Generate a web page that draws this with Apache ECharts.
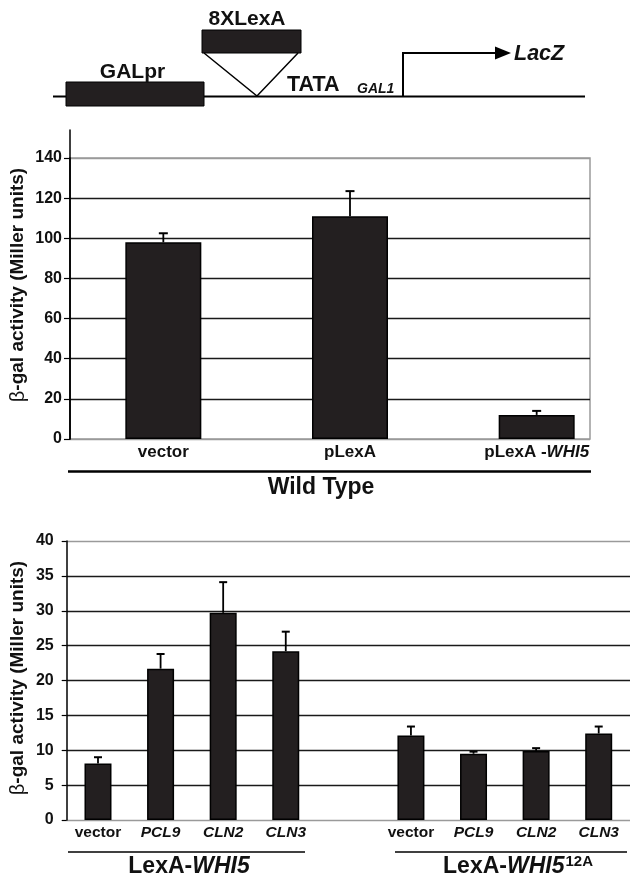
<!DOCTYPE html>
<html><head><meta charset="utf-8">
<script src="https://cdn.jsdelivr.net/npm/echarts@6/dist/echarts.min.js"></script>
<style>html,body{margin:0;padding:0;background:#fff}#c{width:630px;height:879px}</style>
</head><body><div id="c"></div>
<script>
// ---- data ----
const topCategories = ['vector', 'pLexA', 'pLexA -WHI5'];
const topValues = [98, 111, 12];
const topErrors = [4.5, 12.5, 2];
const topTicks = [0, 20, 40, 60, 80, 100, 120, 140];

const bottomCategories = ['vector', 'PCL9', 'CLN2', 'CLN3', '', 'vector', 'PCL9', 'CLN2', 'CLN3'];
const bottomValues = [8.1, 21.7, 29.7, 24.2, null, 12.1, 9.5, 9.9, 12.4];
const bottomErrors = [0.9, 2.1, 4.4, 2.8, null, 1.3, 0.3, 0.4, 1.0];
const bottomTicks = [0, 5, 10, 15, 20, 25, 30, 35, 40];

const FONT = '"Liberation Sans", Arial, Helvetica, sans-serif';
const BAR = '#231f20';

function errRender(capHalf) {
  return function (params, api) {
    const x = api.value(0), lo = api.value(1), hi = api.value(2);
    const p1 = api.coord([x, lo]), p2 = api.coord([x, hi]);
    return {type: 'group', children: [
      {type: 'line', shape: {x1: p1[0], y1: p1[1], x2: p2[0], y2: p2[1]}, style: {stroke: '#000', lineWidth: 1.8}},
      {type: 'line', shape: {x1: p2[0] - capHalf, y1: p2[1], x2: p2[0] + capHalf, y2: p2[1]}, style: {stroke: '#000', lineWidth: 2}}
    ]};
  };
}
function errData(vals, errs) {
  const out = [];
  vals.forEach((v, i) => { if (v != null) out.push([i, v, v + errs[i]]); });
  return out;
}
function lineColors(n) {
  const a = [];
  for (let i = 0; i < n; i++) a.push(i === 0 || i === n - 1 ? '#9a9a9a' : '#1a1a1a');
  return a;
}

const chart = echarts.init(document.getElementById('c'), null, {renderer: 'canvas'});

const yTitle = (x, y) => ({
  type: 'text', x: x, y: y, rotation: Math.PI / 2,
  style: {
    text: '{g|β}{b|-gal activity (Miller units)}',
    align: 'center', verticalAlign: 'middle',
    rich: {
      g: {fontFamily: FONT, fontSize: 20, fontWeight: 'normal', fill: '#111'},
      b: {fontFamily: FONT, fontSize: 19, fontWeight: 'bold', fill: '#111'}
    }
  }
});

const option = {
  backgroundColor: '#fff',
  animation: false,
  grid: [
    {left: 70, top: 158, width: 520, height: 281, show: true, borderColor: '#9a9a9a', borderWidth: 1.5, backgroundColor: 'transparent'},
    {left: 70, top: 158, width: 563, height: 281},
    {left: 70, top: 130, width: 520, height: 309},
    {left: 66.7, top: 541, width: 565.6, height: 279}
  ],
  xAxis: [
    {gridIndex: 0, type: 'value', min: 0, max: 1, show: false},
    {gridIndex: 1, type: 'category', data: topCategories,
      axisLine: {show: false}, axisTick: {show: false},
      axisLabel: {interval: 0, margin: 5,
        formatter: v => v.indexOf('WHI5') >= 0 ? '{b|pLexA -}{i|WHI5}' : '{b|' + v + '}',
        rich: {
          b: {fontFamily: FONT, fontSize: 17, fontWeight: 'bold', color: '#111'},
          i: {fontFamily: FONT, fontSize: 17, fontWeight: 'bold', fontStyle: 'italic', color: '#111'}
        }}},
    {gridIndex: 2, type: 'value', min: 0, max: 1, show: false},
    {gridIndex: 3, type: 'category', data: bottomCategories,
      axisLine: {show: false}, axisTick: {show: false},
      axisLabel: {interval: 0, margin: 5,
        formatter: v => v === 'vector' ? '{b|vector}' : (v ? '{i|' + v + '}' : ''),
        rich: {
          b: {fontFamily: FONT, fontSize: 15.5, fontWeight: 'bold', color: '#111'},
          i: {fontFamily: FONT, fontSize: 15.5, fontWeight: 'bold', fontStyle: 'italic', color: '#111'}
        }}}
  ],
  yAxis: [
    {gridIndex: 0, type: 'value', min: topTicks[0], max: topTicks[topTicks.length - 1], interval: topTicks[1] - topTicks[0],
      axisLine: {show: true, lineStyle: {color: '#000', width: 1.5}},
      axisTick: {show: true, length: 6, lineStyle: {color: '#000', width: 1.2}},
      axisLabel: {margin: 8, fontFamily: FONT, fontSize: 16, fontWeight: 'bold', color: '#111'},
      splitLine: {show: true, lineStyle: {color: lineColors(topTicks.length), width: 1.3}}},
    {gridIndex: 1, type: 'value', min: topTicks[0], max: topTicks[topTicks.length - 1], show: false, splitLine: {show: false}},
    {gridIndex: 2, type: 'value', min: 0, max: 1,
      axisLine: {show: true, lineStyle: {color: '#000', width: 1.5}},
      axisTick: {show: false}, axisLabel: {show: false}, splitLine: {show: false}},
    {gridIndex: 3, type: 'value', min: bottomTicks[0], max: bottomTicks[bottomTicks.length - 1], interval: bottomTicks[1] - bottomTicks[0],
      axisLine: {show: true, lineStyle: {color: '#000', width: 1.5}},
      axisTick: {show: true, length: 5, lineStyle: {color: '#000', width: 1.2}},
      axisLabel: {margin: 13, fontFamily: FONT, fontSize: 16, fontWeight: 'bold', color: '#111'},
      splitLine: {show: true, lineStyle: {color: lineColors(bottomTicks.length), width: 1.3}}}
  ],
  series: [
    {type: 'bar', xAxisIndex: 1, yAxisIndex: 1, data: topValues, barWidth: 76,
      itemStyle: {color: BAR, borderColor: '#000', borderWidth: 1.5}, z: 3},
    {type: 'custom', xAxisIndex: 1, yAxisIndex: 1, data: errData(topValues, topErrors),
      renderItem: errRender(4.5), z: 2},
    {type: 'bar', xAxisIndex: 3, yAxisIndex: 3, data: bottomValues.map(v => v == null ? '-' : v), barWidth: 27,
      itemStyle: {color: BAR, borderColor: '#000', borderWidth: 1.5}, z: 3},
    {type: 'custom', xAxisIndex: 3, yAxisIndex: 3, data: errData(bottomValues, bottomErrors),
      renderItem: errRender(4), z: 2}
  ],
  graphic: [
    // promoter diagram
    {type: 'line', shape: {x1: 53, y1: 96.5, x2: 585, y2: 96.5}, style: {stroke: '#000', lineWidth: 2}},
    {type: 'rect', shape: {x: 66, y: 82, width: 138, height: 24}, style: {fill: BAR, stroke: '#000', lineWidth: 1}},
    {type: 'text', x: 132.5, y: 72, style: {text: 'GALpr', font: 'bold 21px ' + FONT, fill: '#111', align: 'center', verticalAlign: 'middle'}},
    {type: 'rect', shape: {x: 202, y: 30, width: 99, height: 23}, style: {fill: BAR, stroke: '#000', lineWidth: 1}},
    {type: 'text', x: 247, y: 19, style: {text: '8XLexA', font: 'bold 21px ' + FONT, fill: '#111', align: 'center', verticalAlign: 'middle'}},
    {type: 'polyline', shape: {points: [[204, 53], [257, 96], [298, 53]]}, style: {stroke: '#000', lineWidth: 1.5, fill: null}},
    {type: 'text', x: 287, y: 96, style: {text: 'TATA', font: 'bold 21.5px ' + FONT, fill: '#111', align: 'left', verticalAlign: 'bottom'}},
    {type: 'text', x: 357, y: 96, style: {text: 'GAL1', font: 'italic bold 14px ' + FONT, fill: '#111', align: 'left', verticalAlign: 'bottom'}},
    {type: 'polyline', shape: {points: [[403, 96], [403, 53], [497, 53]]}, style: {stroke: '#000', lineWidth: 2, fill: null}},
    {type: 'polygon', shape: {points: [[495, 46.5], [511, 53], [495, 59.5]]}, style: {fill: '#000'}},
    {type: 'text', x: 514, y: 54, style: {text: 'LacZ', font: 'italic bold 21.5px ' + FONT, fill: '#111', align: 'left', verticalAlign: 'middle'}},
    // top chart annotations
    yTitle(18, 285),
    {type: 'line', shape: {x1: 68, y1: 471.5, x2: 591, y2: 471.5}, style: {stroke: '#000', lineWidth: 2.5}},
    {type: 'text', x: 321, y: 488, style: {text: 'Wild Type', font: 'bold 23px ' + FONT, fill: '#111', align: 'center', verticalAlign: 'middle'}},
    // bottom chart annotations
    yTitle(18, 678),
    {type: 'line', shape: {x1: 68, y1: 852, x2: 305, y2: 852}, style: {stroke: '#000', lineWidth: 1.5}},
    {type: 'line', shape: {x1: 395, y1: 852, x2: 627, y2: 852}, style: {stroke: '#000', lineWidth: 1.5}},
    {type: 'text', x: 189, y: 867, style: {text: '{n|LexA-}{i|WHI5}', align: 'center', verticalAlign: 'middle',
      rich: {n: {fontFamily: FONT, fontSize: 23, fontWeight: 'bold', fill: '#111'},
             i: {fontFamily: FONT, fontSize: 23, fontWeight: 'bold', fontStyle: 'italic', fill: '#111'}}}},
    {type: 'text', x: 518, y: 867, style: {text: '{n|LexA-}{i|WHI5}{s|12A}', align: 'center', verticalAlign: 'middle',
      rich: {n: {fontFamily: FONT, fontSize: 23, fontWeight: 'bold', fill: '#111', lineHeight: 26},
             i: {fontFamily: FONT, fontSize: 23, fontWeight: 'bold', fontStyle: 'italic', fill: '#111', lineHeight: 26},
             s: {fontFamily: FONT, fontSize: 15, fontWeight: 'bold', fill: '#111', verticalAlign: 'top', lineHeight: 26, padding: [0, 0, 0, 1]}}}}
  ]
};
chart.setOption(option);
</script>
</body></html>
